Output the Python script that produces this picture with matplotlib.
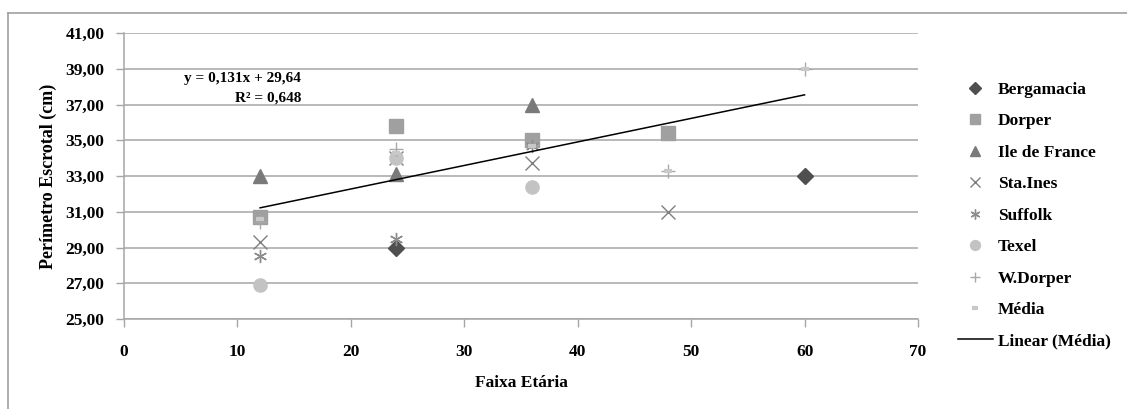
import matplotlib
matplotlib.use("Agg")
import matplotlib.pyplot as plt
from matplotlib.lines import Line2D
from matplotlib.ticker import FuncFormatter
import numpy as np

plt.rcParams["font.family"] = ["Liberation Serif", "DejaVu Serif"]
plt.rcParams["font.weight"] = "bold"

# Values (x = Faixa Etária, y = Perímetro Escrotal)
berg_x = [24, 60]
berg_y = [29.0, 33.0]
dorper_x = [12, 24, 36, 48]
dorper_y = [30.7, 35.8, 35.0, 35.4]
ile_x = [12, 24, 36]
ile_y = [33.0, 33.1, 37.0]
staines_x = [12, 24, 36, 48]
staines_y = [29.3, 34.0, 33.7, 31.0]
suffolk_x = [12, 24, 36]
suffolk_y = [28.5, 29.5, 34.7]
texel_x = [12, 24, 36]
texel_y = [26.9, 34.0, 32.4]
wdorper_x = [12, 24, 48, 60]
wdorper_y = [30.4, 34.5, 33.3, 39.0]
media_x = [12, 24, 36, 48, 60]
media_y = [30.6, 34.3, 34.7, 33.3, 39.0]

eq_text = "y = 0,131x + 29,64\nR² = 0,648"

W, H = 1127, 409
fs = 12.5
fig = plt.figure(figsize=(W / 100, H / 100), dpi=100)
ax = fig.add_axes([124 / W, 1 - 319 / H, (918 - 124) / W, (319 - 33) / H])

grid_c = "#a6a6a6"
ms = 9.5
series = [
    (berg_x, berg_y, "Bergamacia", dict(marker="D", color="#4f4f4f", ms=ms * 0.85)),
    (dorper_x, dorper_y, "Dorper", dict(marker="s", color="#a0a0a0", ms=ms)),
    (ile_x, ile_y, "Ile de France", dict(marker="^", color="#7a7a7a", ms=ms * 1.05)),
    (staines_x, staines_y, "Sta.Ines", dict(marker="x", color="#7f7f7f", ms=ms, mew=1.0)),
    (suffolk_x, suffolk_y, "Suffolk", dict(marker=(6, 2, 0), color="#8c8c8c", ms=ms, mew=1.0)),
    (texel_x, texel_y, "Texel", dict(marker="o", color="#c3c3c3", ms=ms)),
    (wdorper_x, wdorper_y, "W.Dorper", dict(marker="+", color="#a9a9a9", ms=ms, mew=1.0)),
    (media_x, media_y, "Média", dict(marker="_", color="#c8c8c8", ms=ms * 0.6, mew=3)),
]

handles = []
for xs, ys, name, st in series:
    h, = ax.plot(xs, ys, linestyle="none", label=name, zorder=3, **st)
    handles.append(h)

# linear trend of Média
coef = np.polyfit(media_x, media_y, 1)
tx = np.array([min(media_x), max(media_x)])
trend, = ax.plot(tx, np.polyval(coef, tx), color="black", lw=1.1, zorder=4,
                 label="Linear (Média)")
handles.append(trend)

ax.text(15.6, 37.9, eq_text, ha="right", va="center", multialignment="right",
        fontsize=11, fontweight="bold", linespacing=1.6)

ax.set_xlim(0, 70)
ax.set_ylim(25, 41)
ax.set_xticks(np.arange(0, 71, 10))
ax.set_yticks(np.arange(25, 41.1, 2))
ax.yaxis.set_major_formatter(FuncFormatter(lambda v, p: f"{v:.2f}".replace(".", ",")))
ax.grid(axis="y", color=grid_c, lw=1.1)
ax.set_axisbelow(True)
for s in ["top", "right"]:
    ax.spines[s].set_visible(False)
for s in ["left", "bottom"]:
    ax.spines[s].set_color(grid_c)
    ax.spines[s].set_linewidth(1.1)
ax.tick_params(axis="both", color=grid_c, width=1.0, length=6, labelsize=fs)
ax.tick_params(axis="y", pad=8)
ax.tick_params(axis="x", pad=12)
for lab in ax.get_xticklabels() + ax.get_yticklabels():
    lab.set_fontweight("bold")

ax.set_xlabel("Faixa Etária", fontsize=fs, fontweight="bold", labelpad=11)
ax.set_ylabel("Perímetro Escrotal (cm)", fontsize=13, fontweight="bold", labelpad=6)

leg = fig.legend(handles=handles, loc="upper left", bbox_to_anchor=(0.836, 0.838),
                 frameon=False, labelspacing=0.88, handlelength=2.0, markerscale=0.75,
                 handletextpad=0.3, prop={"weight": "bold", "size": fs})

# outer chart border (left and top edges visible)
fig.add_artist(Line2D([8 / W, 8 / W], [0, 1 - 13 / H], color="#a0a0a0", lw=1.2))
fig.add_artist(Line2D([8 / W, 1], [1 - 13 / H, 1 - 13 / H], color="#a0a0a0", lw=1.2))

fig.savefig("out.png", dpi=100)
